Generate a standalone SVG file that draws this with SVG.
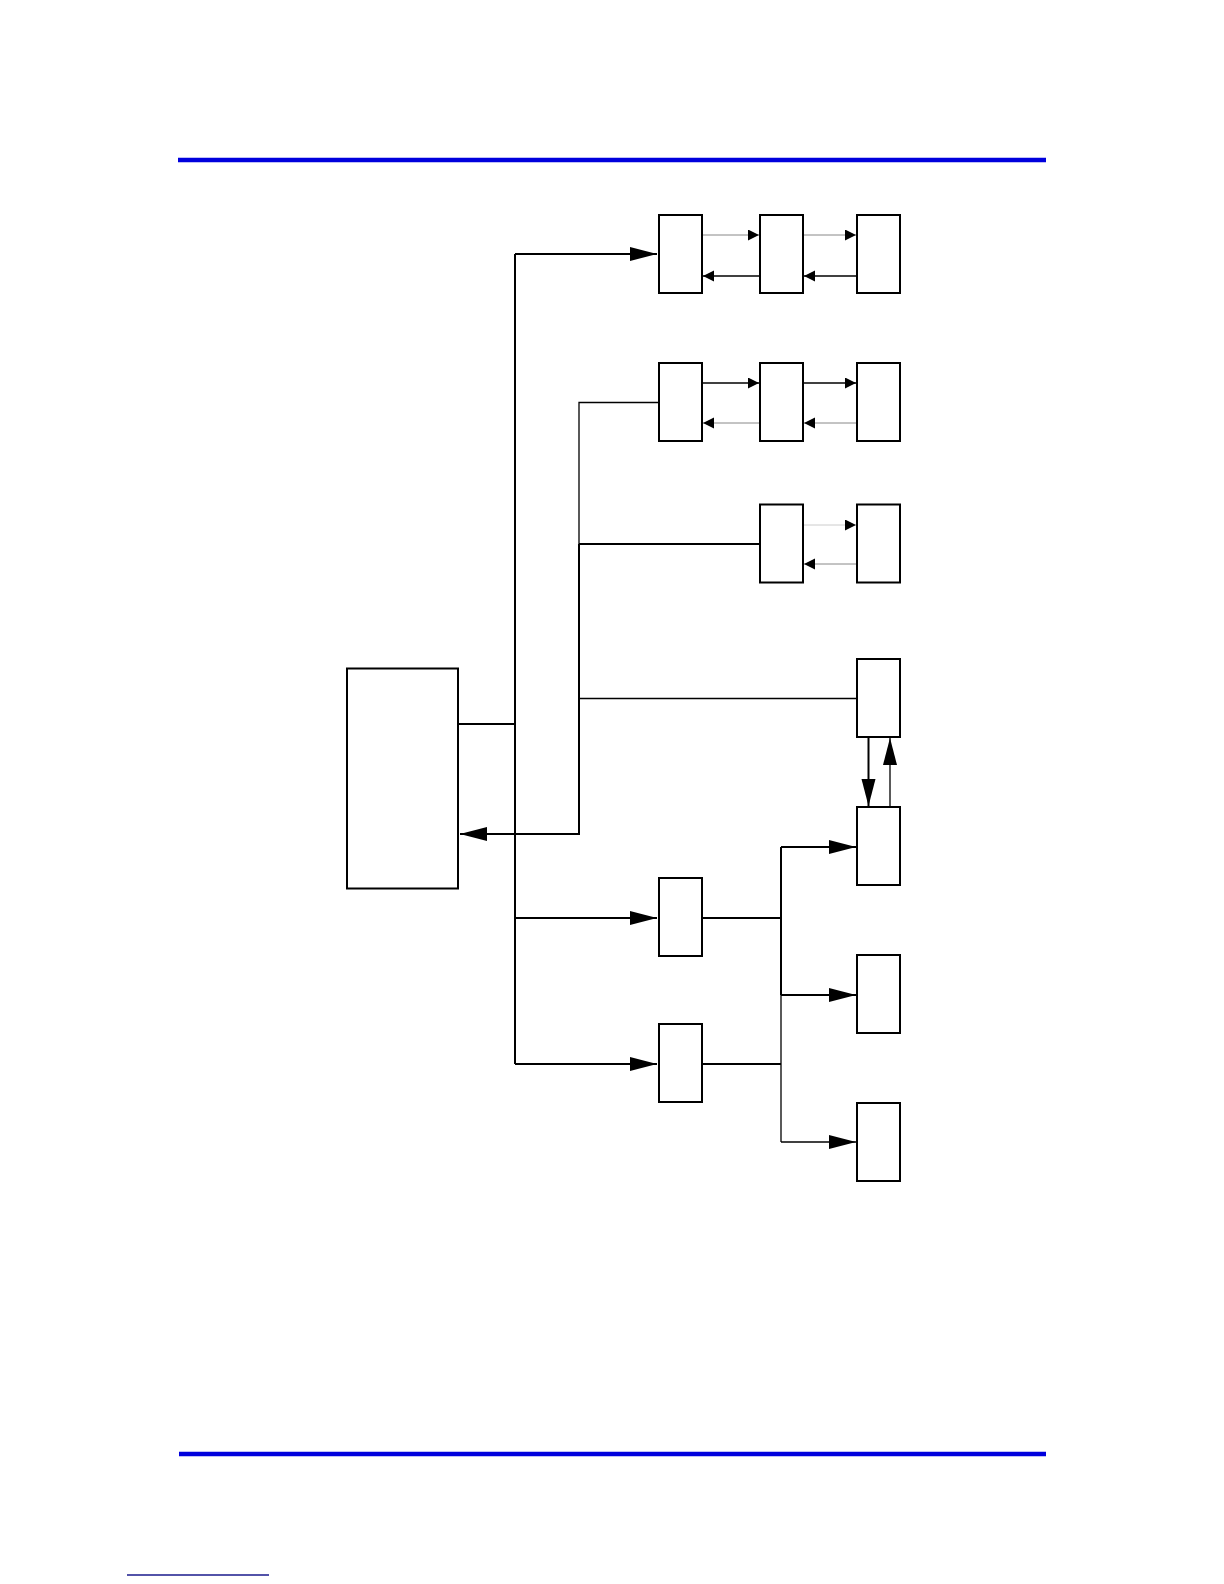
<svg xmlns="http://www.w3.org/2000/svg" width="1224" height="1584" viewBox="0 0 1224 1584">
<style>
.box{fill:#fff;stroke:#000;stroke-width:2}
.w{fill:none;stroke:#000;stroke-width:2}
.t{fill:none;stroke:#000;stroke-width:1.3}
.g{fill:none;stroke:#888;stroke-width:1}
.lg{fill:none;stroke:#ccc;stroke-width:1}
.rule{stroke:#0000dd;stroke-width:4.3}
</style>
<defs>
<marker id="big" markerUnits="userSpaceOnUse" markerWidth="28" markerHeight="16" refX="27" refY="7" orient="auto"><path d="M0,0L27,7L0,14z" fill="#000"/></marker>
<marker id="sm" markerUnits="userSpaceOnUse" markerWidth="12" markerHeight="12" refX="11" refY="5.5" orient="auto"><path d="M0,0L11,5.5L0,11z" fill="#000"/></marker>
</defs>
<rect width="1224" height="1584" fill="#fff"/>
<line class="rule" x1="178" y1="160" x2="1046" y2="160"/>
<line class="rule" x1="179" y1="1454" x2="1046" y2="1454"/>
<line x1="127" y1="1575" x2="269" y2="1575" stroke="#1a1a8c" stroke-width="1.3"/>
<g id="connectors">
<!-- main bus -->
<polyline class="w" points="458,724 515,724"/>
<line class="w" x1="515" y1="254" x2="515" y2="1064"/>
<line class="w" x1="515" y1="254" x2="657" y2="254" marker-end="url(#big)"/>
<line class="w" x1="515" y1="918" x2="657" y2="918" marker-end="url(#big)"/>
<line class="w" x1="515" y1="1064" x2="657" y2="1064" marker-end="url(#big)"/>
<!-- return bus -->
<polyline class="t" points="659,402.5 579,402.5 579,544"/>
<line class="w" x1="579" y1="544" x2="760" y2="544"/>
<line class="t" x1="579" y1="698.5" x2="857" y2="698.5"/>
<polyline class="w" points="579,544 579,834 460,834" marker-end="url(#big)"/>
<!-- row 1 chain -->
<line class="g" x1="702" y1="235" x2="759" y2="235" marker-end="url(#sm)"/>
<line class="g" x1="803" y1="235" x2="856" y2="235" marker-end="url(#sm)"/>
<line class="t" x1="759.5" y1="276" x2="703" y2="276" marker-end="url(#sm)"/>
<line class="t" x1="856.5" y1="276" x2="804" y2="276" marker-end="url(#sm)"/>
<!-- row 2 chain -->
<line class="t" x1="702" y1="383" x2="759" y2="383" marker-end="url(#sm)"/>
<line class="t" x1="803" y1="383" x2="856" y2="383" marker-end="url(#sm)"/>
<line class="g" x1="759.5" y1="423" x2="703" y2="423" marker-end="url(#sm)"/>
<line class="g" x1="856.5" y1="423" x2="804" y2="423" marker-end="url(#sm)"/>
<!-- row 3 chain -->
<line class="lg" x1="803" y1="525" x2="856" y2="525" marker-end="url(#sm)"/>
<line class="g" x1="856.5" y1="564" x2="804" y2="564" marker-end="url(#sm)"/>
<!-- vertical pair -->
<line class="w" x1="868.5" y1="737" x2="868.5" y2="806" marker-end="url(#big)"/>
<line class="t" x1="890" y1="807" x2="890" y2="738" marker-end="url(#big)"/>
<!-- fan-out -->
<line class="w" x1="702" y1="918" x2="781" y2="918"/>
<line class="w" x1="702" y1="1064" x2="781" y2="1064"/>
<line class="w" x1="781" y1="847" x2="781" y2="995"/>
<line class="t" x1="781" y1="995" x2="781" y2="1142"/>
<line class="w" x1="781" y1="847" x2="856" y2="847" marker-end="url(#big)"/>
<line class="w" x1="781" y1="995" x2="856" y2="995" marker-end="url(#big)"/>
<line class="t" x1="781" y1="1142" x2="856" y2="1142" marker-end="url(#big)"/>
</g>
<g id="main"><rect class="box" x="347" y="668.5" width="111" height="220"/></g>
<g id="r1a"><rect class="box" x="659" y="215" width="43" height="78"/></g>
<g id="r1b"><rect class="box" x="760" y="215" width="43" height="78"/></g>
<g id="r1c"><rect class="box" x="857" y="215" width="43" height="78"/></g>
<g id="r2a"><rect class="box" x="659" y="363" width="43" height="78"/></g>
<g id="r2b"><rect class="box" x="760" y="363" width="43" height="78"/></g>
<g id="r2c"><rect class="box" x="857" y="363" width="43" height="78"/></g>
<g id="r3b"><rect class="box" x="760" y="504.5" width="43" height="78"/></g>
<g id="r3c"><rect class="box" x="857" y="504.5" width="43" height="78"/></g>
<g id="r4"><rect class="box" x="857" y="659" width="43" height="78"/></g>
<g id="ra"><rect class="box" x="659" y="878" width="43" height="78"/></g>
<g id="rb"><rect class="box" x="659" y="1024" width="43" height="78"/></g>
<g id="rc"><rect class="box" x="857" y="807" width="43" height="78"/></g>
<g id="rd"><rect class="box" x="857" y="955" width="43" height="78"/></g>
<g id="re"><rect class="box" x="857" y="1103" width="43" height="78"/></g>
</svg>
